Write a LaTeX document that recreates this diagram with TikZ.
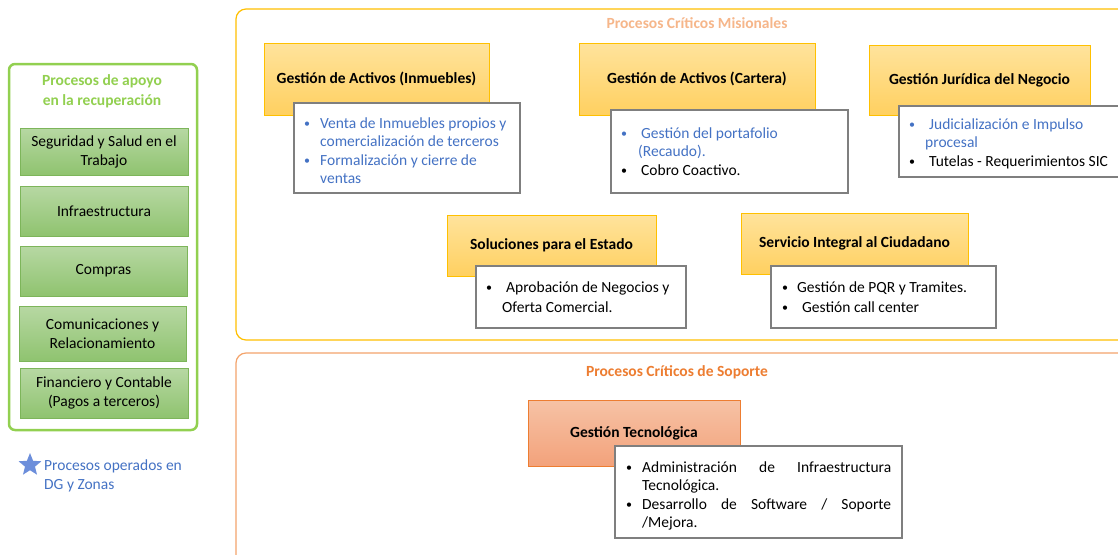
\documentclass[tikz,border=0pt]{standalone}
\usepackage{fontspec}
\setmainfont{Carlito}
\usetikzlibrary{shapes.geometric}

\definecolor{grnline}{HTML}{92D050}
\definecolor{grnbox}{HTML}{7DB55A}
\definecolor{grntop}{HTML}{B7D8A3}
\definecolor{grnbot}{HTML}{8FC36F}
\definecolor{gold}{HTML}{FFC000}
\definecolor{ylwtop}{HTML}{FFE39C}
\definecolor{ylwbot}{HTML}{FFD060}
\definecolor{orgline}{HTML}{F4A46C}
\definecolor{orgtitle}{HTML}{ED7D31}
\definecolor{misional}{HTML}{F6B68A}
\definecolor{saltop}{HTML}{F6C2A5}
\definecolor{salbot}{HTML}{F3A27B}
\definecolor{salline}{HTML}{ED7D31}
\definecolor{grayline}{HTML}{7F7F7F}
\definecolor{bluetxt}{HTML}{4472C4}
\definecolor{starblue}{HTML}{6C8EDB}

\newcommand\fsz[2]{\fontsize{#1}{#2}\selectfont}
% small bullet in a box of given width, followed by the item text
\newcommand\bl[2]{\makebox[#1pt][l]{\raisebox{1pt}{\fontsize{12}{12}\selectfont\textbullet}}#2}

\tikzset{
  frame/.style={draw, rounded corners=10pt, inner sep=0pt},
  greenbox/.style={draw=grnbox, line width=1pt, top color=grntop, bottom color=grnbot,
    align=center, inner sep=0pt, font=\fsz{15.5}{19}},
  procbox/.style={draw=gold, line width=1pt, top color=ylwtop, bottom color=ylwbot,
    inner sep=0pt, font=\fsz{15.5}{18}\bfseries},
  techbox/.style={draw=salline, line width=1pt, top color=saltop, bottom color=salbot,
    inner sep=0pt, font=\fsz{15.5}{18}\bfseries},
  detail/.style={draw=grayline, line width=2pt, fill=white, inner sep=0pt},
  detailtext/.style={anchor=west, align=left, inner sep=0pt, font=\fsz{15.5}{18.5}},
  heading/.style={font=\fsz{15.5}{18}\bfseries, inner sep=0pt},
}

\begin{document}
\begin{tikzpicture}[x=1pt, y=-1pt]
\useasboundingbox (0,0) rectangle (1118,554);
\clip (0,0) rectangle (1118,554);
\fill[white] (0,0) rectangle (1118,554);

% ---- group frames ----
\node[frame, draw=gold, line width=1.2pt, minimum width=894, minimum height=331] (mis) at (683,174.5) {};
\node[frame, draw=orgline, line width=1.2pt, minimum width=894, minimum height=217] (sop) at (683,461.5) {};
\node[frame, draw=grnline, line width=2.5pt, rounded corners=6pt, minimum width=188, minimum height=366] (apoyo) at (103,247) {};

\node[heading, text=misional] (misT) at (697,23) {Procesos Críticos Misionales};
\node[heading, text=orgtitle] (sopT) at (677,372) {Procesos Críticos de Soporte};
\node[heading, text=grnline, align=center, font=\fsz{15.5}{20}\bfseries] (apoyoT) at (102,91) {Procesos de apoyo\\en la recuperación};

% ---- support processes ----
\node[greenbox, minimum width=168, minimum height=47] (g1) at (104,151.5) {Seguridad y Salud en el\\Trabajo};
\node[greenbox, minimum width=168, minimum height=50] (g2) at (104,211) {Infraestructura};
\node[greenbox, minimum width=167, minimum height=50] (g3) at (103.5,271) {Compras};
\node[greenbox, minimum width=167, minimum height=55] (g4) at (102.5,333.5) {Comunicaciones y\\Relacionamiento};
\node[greenbox, minimum width=168, minimum height=50] (g5) at (104,393) {Financiero y Contable\\(Pagos a terceros)};

% ---- legend ----
\node[star, star points=5, star point ratio=2.3, fill=starblue, minimum size=24, inner sep=0pt] (star) at (30,465) {};
\node[detailtext, text=bluetxt, font=\fsz{15.5}{19.5}] (legend) at (44,476) {Procesos operados en\\DG y Zonas};

% ---- mission processes ----
\node[procbox, minimum width=225, minimum height=72] (y1) at (376.5,79) {Gestión de Activos (Inmuebles)};
\node[detail, minimum width=226, minimum height=90] (d1) at (407,148) {};
\node[detailtext, text=bluetxt, xshift=11pt, yshift=-2.5pt] (d1t) at (d1.west)
  {\bl{16}{Venta de Inmuebles propios y}\\\hspace*{16pt}comercialización de terceros\\
   \bl{16}{Formalización y cierre de}\\\hspace*{16pt}ventas};

\node[procbox, minimum width=236, minimum height=72] (y2) at (697,79) {Gestión de Activos (Cartera)};
\node[detail, minimum width=237, minimum height=83] (d2) at (729.5,151.5) {};
\node[detailtext, xshift=11pt] (d2t) at (d2.west)
  {\color{bluetxt}\bl{20}{Gestión del portafolio}\\\color{bluetxt}\hspace*{17pt}(Recaudo).\\
   \bl{20}{Cobro Coactivo.}};

\node[procbox, minimum width=221, minimum height=70] (y3) at (979.5,80) {Gestión Jurídica del Negocio};
\node[detail, minimum width=222, minimum height=71] (d3) at (1010,141.5) {};
\node[detailtext, xshift=11pt, yshift=-2pt] (d3t) at (d3.west)
  {\color{bluetxt}\bl{20}{Judicialización e Impulso}\\\color{bluetxt}\hspace*{16pt}procesal\\
   \bl{20}{Tutelas - Requerimientos SIC}};

\node[procbox, minimum width=209, minimum height=61] (y4) at (551.5,245.5) {Soluciones para el Estado};
\node[detail, minimum width=210, minimum height=62] (d4) at (581,297) {};
\node[detailtext, xshift=11pt, font=\fsz{15.5}{20}] (d4t) at (d4.west)
  {\bl{20}{Aprobación de Negocios y}\\\hspace*{16pt}Oferta Comercial.};

\node[procbox, minimum width=227, minimum height=61] (y5) at (854.5,243.5) {Servicio Integral al Ciudadano};
\node[detail, minimum width=225, minimum height=62] (d5) at (883.5,297) {};
\node[detailtext, xshift=12pt, font=\fsz{15.5}{19.5}] (d5t) at (d5.west)
  {\bl{15}{Gestión de PQR y Tramites.}\\\bl{20}{Gestión call center}};

% ---- support-critical process ----
\node[techbox, minimum width=212, minimum height=66] (s1) at (634,433) {Gestión Tecnológica};
\node[detail, minimum width=287, minimum height=92] (d6) at (758.5,492) {};
\node[detailtext, xshift=12pt, yshift=-4pt] (d6t) at (d6.west)
  {\bl{16}{\makebox[249pt][s]{Administración de Infraestructura}}\\\hspace*{16pt}Tecnológica.\\
   \bl{16}{\makebox[249pt][s]{Desarrollo de Software / Soporte}}\\\hspace*{16pt}/Mejora.};
\end{tikzpicture}
\end{document}
